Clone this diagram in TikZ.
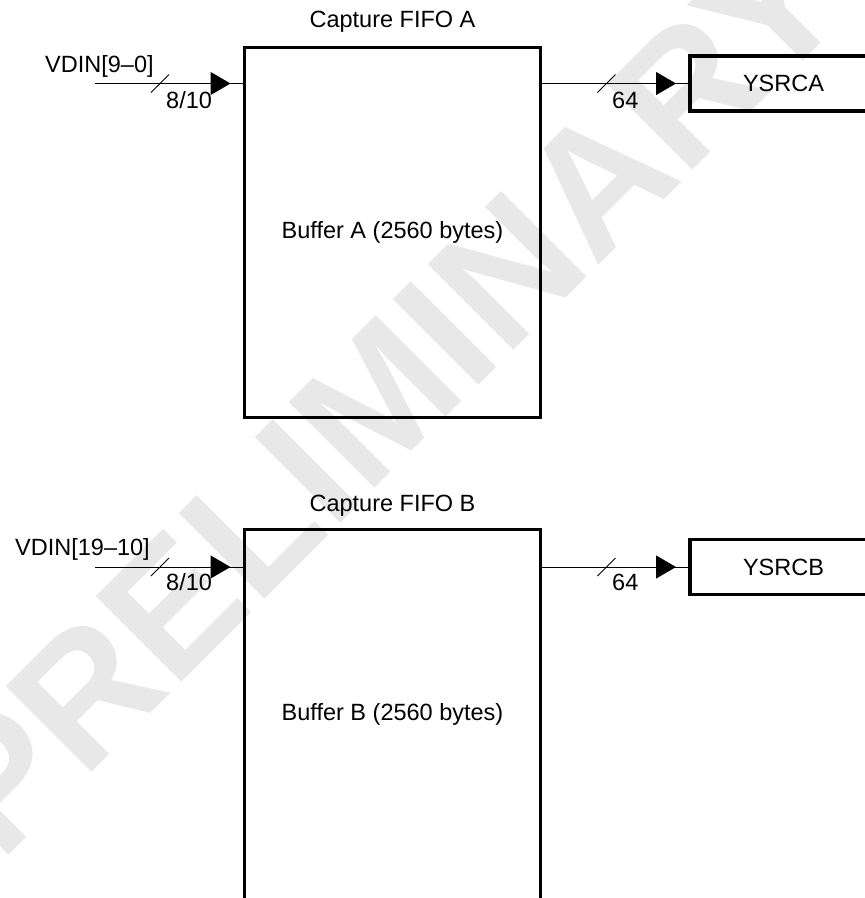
\documentclass[tikz,border=0pt]{standalone}
\usepackage{fontspec}
\setmainfont{Liberation Sans}
\usetikzlibrary{arrows.meta,decorations.markings}
\definecolor{wmgray}{RGB}{232,232,232}
\begin{document}
\begin{tikzpicture}[x=1pt,y=-1pt,
  font=\fontsize{23.5}{28}\selectfont,
  block/.style={draw,line width=3.4pt,minimum width=296pt,minimum height=370pt,inner sep=0pt,outer sep=0pt},
  sink/.style={draw,line width=3.4pt,minimum width=187pt,minimum height=55pt,inner sep=0pt,outer sep=0pt},
  bus/.style={line width=1pt,postaction={decorate},
    decoration={markings,mark=at position -14pt with {\arrow{Triangle[length=20pt,width=23pt]}}}},
  slash/.style={line width=1pt},
  lbl/.style={inner sep=0pt,anchor=base west}]
\useasboundingbox (0,0) rectangle (865,898);
\fill[white] (0,0) rectangle (865,898);
\clip (0,0) rectangle (865,898);
% watermark
\node[rotate=45,text=wmgray,inner sep=0pt,font=\fontsize{176}{176}\bfseries\selectfont] (wm) at (384,394) {PRELIMINARY};

% ---- FIFO A ----
\node[block] (bufA) at (392.5,232.5) {Buffer A (2560 bytes)};
\node[inner sep=0pt,anchor=base] (capA) at (392.5,27) {Capture FIFO A};
\node[sink] (ysA) at (783.5,83.5) {YSRCA};
\coordinate (inA) at (95,83.5);
\node[lbl] (vinA) at (45,72) {VDIN[9–0]};
\draw[bus] (inA) -- (inA -| bufA.west);
\draw[bus] (inA -| bufA.east) -- (ysA.west);
\coordinate (slA1) at (160,83.5);
\coordinate (slA2) at (606.5,83.5);
\draw[slash] ([shift={(-9,9)}]slA1) -- ([shift={(9,-9)}]slA1);
\draw[slash] ([shift={(-9,9)}]slA2) -- ([shift={(9,-9)}]slA2);
\node[lbl] (wdA1) at (166,108) {8/10};
\node[lbl] (wdA2) at (612,108) {64};

% ---- FIFO B ----
\node[block] (bufB) at (392.5,714.5) {Buffer B (2560 bytes)};
\node[inner sep=0pt,anchor=base] (capB) at (392.5,511) {Capture FIFO B};
\node[sink] (ysB) at (783.5,567) {YSRCB};
\coordinate (inB) at (95,567);
\node[lbl] (vinB) at (15,555) {VDIN[19–10]};
\draw[bus] (inB) -- (inB -| bufB.west);
\draw[bus] (inB -| bufB.east) -- (ysB.west);
\coordinate (slB1) at (160,567);
\coordinate (slB2) at (606.5,567);
\draw[slash] ([shift={(-9,9)}]slB1) -- ([shift={(9,-9)}]slB1);
\draw[slash] ([shift={(-9,9)}]slB2) -- ([shift={(9,-9)}]slB2);
\node[lbl] (wdB1) at (166,590) {8/10};
\node[lbl] (wdB2) at (612,590) {64};
\end{tikzpicture}
\end{document}
